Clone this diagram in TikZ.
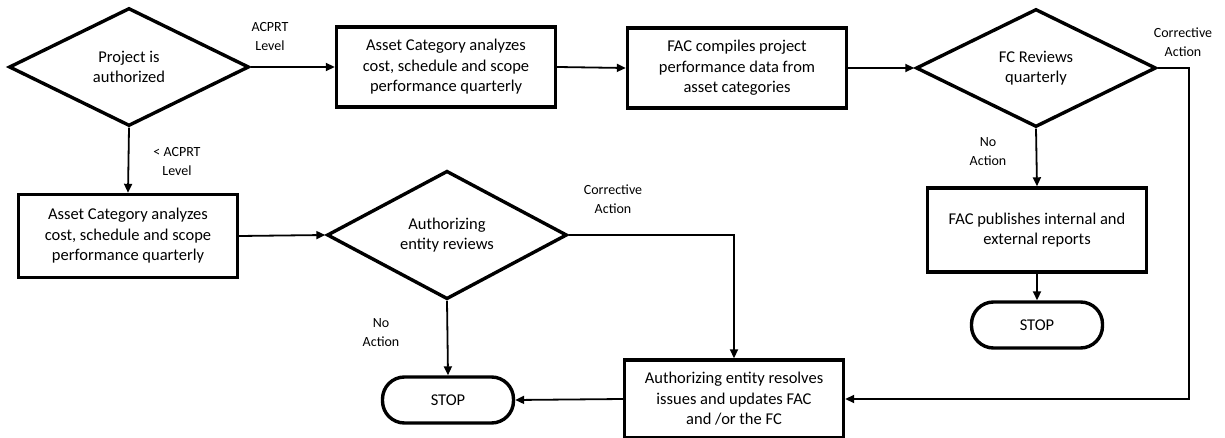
\documentclass[tikz,border=0pt]{standalone}
\usepackage{fontspec}
\setmainfont{Carlito}
\usepackage{tikz}
\usetikzlibrary{shapes.geometric, arrows.meta}

\begin{document}
\begin{tikzpicture}[x = 1pt, y = -1pt,
        decision/.style = {draw, diamond, line width = 3.4pt, inner sep = 0pt,
            minimum width = 240pt, minimum height = 118pt, align = center,
            font = \fontsize{16.5}{20.5}\selectfont},
        process/.style = {draw, rectangle, line width = 3.4pt, inner sep = 0pt,
            minimum width = 219pt, minimum height = 80pt, align = center,
            font = \fontsize{16.5}{20.5}\selectfont},
        terminal/.style = {draw, rectangle, rounded corners = 22pt, line width = 3.4pt,
            minimum width = 131pt, minimum height = 46pt,
            font = \fontsize{16.5}{20.5}\selectfont},
        conn/.style = {line width = 1.8pt, -{Triangle[length = 9pt, width = 8pt]}},
        lbl/.style = {align = center, font = \fontsize{14}{19}\selectfont}
    ]
        \useasboundingbox (0, 0) rectangle (1225, 438);

        % top row
        \node[decision] (auth) at (129, 67) {Project is\\authorized};
        \node[process] (catTop) at (446, 67) {Asset Category analyzes\\cost, schedule and scope\\performance quarterly};
        \node[process] (facComp) at (737, 68) {FAC compiles project\\performance data from\\asset categories};
        \node[decision] (fcRev) at (1036, 68) {FC Reviews\\quarterly};

        % middle and bottom
        \node[process, minimum height = 83pt] (catLow) at (128, 236) {Asset Category analyzes\\cost, schedule and scope\\performance quarterly};
        \node[decision] (entRev) at (447, 235) {Authorizing\\entity reviews};
        \node[process, minimum height = 84pt] (facPub) at (1037, 230) {FAC publishes internal and\\external reports};
        \node[terminal] (stopR) at (1037, 325) {STOP};
        \node[terminal] (stopL) at (448, 400) {STOP};
        \node[process, minimum height = 78pt] (entRes) at (734, 399) {Authorizing entity resolves\\issues and updates FAC\\and /or the FC};

        % labels
        \node[lbl] (lAcprt) at (270, 37) {ACPRT\\Level};
        \node[lbl] (lLess) at (177, 162) {< ACPRT\\Level};
        \node[lbl] (lCorrR) at (1183, 42) {Corrective\\Action};
        \node[lbl] (lNoR) at (988, 152) {No\\Action};
        \node[lbl] (lCorrL) at (613, 199) {Corrective\\Action};
        \node[lbl] (lNoL) at (381, 333) {No\\Action};

        % connectors
        \draw[conn] (auth.east) -- (catTop.west);
        \draw[conn] (catTop.east) -- (facComp.west);
        \draw[conn] (facComp.east) -- (fcRev.west);
        \draw[conn] (auth.south) -- (catLow.north);
        \draw[conn] (catLow.east) -- (entRev.west);
        \draw[conn] (fcRev.south) -- (facPub.north);
        \draw[conn] (facPub.south) -- (stopR.north);
        \draw[conn] (fcRev.east) -- ++(31, 0) |- (entRes.east);
        \draw[conn] (entRev.east) -| (entRes.north);
        \draw[conn] (entRev.south) -- (stopL.north);
        \draw[conn] (entRes.west) -- (stopL.east);

    \end{tikzpicture}
\end{document}
